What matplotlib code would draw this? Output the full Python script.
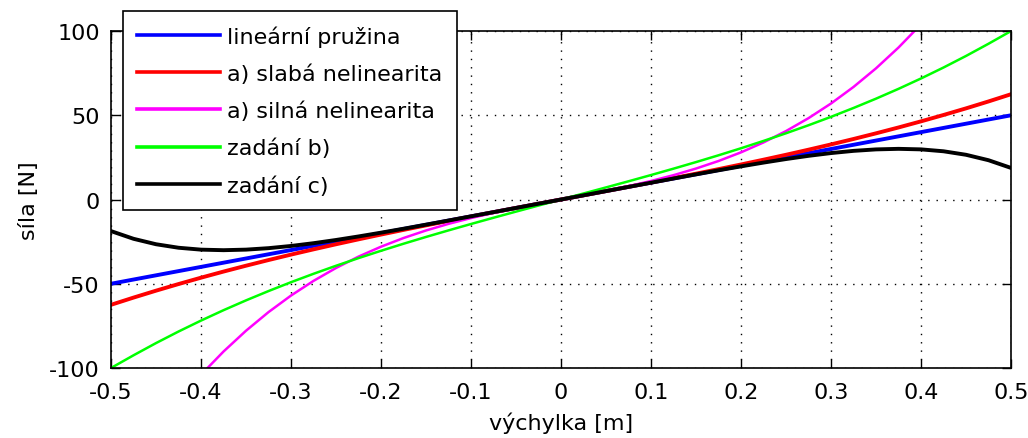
import numpy as np
import matplotlib.pyplot as plt

plt.rcParams['font.family'] = ['DejaVu Sans']
plt.rcParams['axes.unicode_minus'] = False

# values, x step 0.025
x = [-0.5, -0.475, -0.45, -0.425, -0.4, -0.375, -0.35, -0.325, -0.3, -0.275,
     -0.25, -0.225, -0.2, -0.175, -0.15, -0.125, -0.1, -0.075, -0.05, -0.025,
     0.0, 0.025, 0.05, 0.075, 0.1, 0.125, 0.15, 0.175, 0.2, 0.225,
     0.25, 0.275, 0.3, 0.325, 0.35, 0.375, 0.4, 0.425, 0.45, 0.475, 0.5]

linear = [-50, -47.5, -45, -42.5, -40, -37.5, -35, -32.5, -30, -27.5,
          -25, -22.5, -20, -17.5, -15, -12.5, -10, -7.5, -5, -2.5,
          0, 2.5, 5, 7.5, 10, 12.5, 15, 17.5, 20, 22.5,
          25, 27.5, 30, 32.5, 35, 37.5, 40, 42.5, 45, 47.5, 50]

weak = [-62.5, -58.22, -54.11, -50.18, -46.4, -42.77, -39.29, -35.93, -32.7, -29.58,
        -26.56, -23.64, -20.8, -18.04, -15.34, -12.70, -10.1, -7.54, -5.01, -2.50,
        0, 2.50, 5.01, 7.54, 10.1, 12.70, 15.34, 18.04, 20.8, 23.64,
        26.56, 29.58, 32.7, 35.93, 39.29, 42.77, 46.4, 50.18, 54.11, 58.22, 62.5]

x_strong = [-0.4, -0.375, -0.35, -0.325, -0.3, -0.275, -0.25, -0.225, -0.2, -0.175,
            -0.15, -0.125, -0.1, -0.075, -0.05, -0.025, 0.0, 0.025, 0.05, 0.075,
            0.1, 0.125, 0.15, 0.175, 0.2, 0.225, 0.25, 0.275, 0.3, 0.325,
            0.35, 0.375, 0.4]
strong = [-104.0, -90.23, -77.88, -66.83, -57.0, -48.30, -40.63, -33.89, -28.0, -22.86,
          -18.38, -14.45, -11.0, -7.92, -5.13, -2.52, 0, 2.52, 5.13, 7.92,
          11.0, 14.45, 18.38, 22.86, 28.0, 33.89, 40.63, 48.30, 57.0, 66.83,
          77.88, 90.23, 104.0]

zad_b = [-100, -92.47, -85.22, -78.36, -71.86, -65.70, -59.87, -54.34, -49.08, -44.09,
         -39.33, -34.78, -30.43, -26.25, -22.22, -18.32, -14.53, -10.82, -7.18, -3.58,
         0, 3.58, 7.18, 10.82, 14.53, 18.32, 22.22, 26.25, 30.43, 34.78,
         39.33, 44.09, 49.08, 54.34, 59.87, 65.70, 71.86, 78.36, 85.22, 92.47, 100]

zad_c = [-18.75, -23.32, -26.55, -28.63, -29.76, -30.08, -29.75, -28.88, -27.57, -25.93,
         -24.02, -21.92, -19.68, -17.34, -14.92, -12.47, -9.99, -7.50, -5.00, -2.50,
         0, 2.50, 5.00, 7.50, 9.99, 12.47, 14.92, 17.34, 19.68, 21.92,
         24.02, 25.93, 27.57, 28.88, 29.75, 30.08, 29.76, 28.63, 26.55, 23.32, 18.75]

labels = ['lineární pružina', 'a) slabá nelinearita', 'a) silná nelinearita',
          'zadání b)', 'zadání c)']
xticks = [-0.5, -0.4, -0.3, -0.2, -0.1, 0, 0.1, 0.2, 0.3, 0.4, 0.5]
xticklabels = ['-0.5', '-0.4', '-0.3', '-0.2', '-0.1', '0', '0.1', '0.2', '0.3', '0.4', '0.5']
yticks = [-100, -50, 0, 50, 100]
yticklabels = ['-100', '-50', '0', '50', '100']

fig = plt.figure(figsize=(10.28, 4.39), dpi=100)
ax = fig.add_axes([0.108, 0.1595, 0.8755, 0.7675])

ax.plot(x, linear, color='#0000ff', lw=2.8, label=labels[0])
ax.plot(x, weak, color='#ff0000', lw=2.8, label=labels[1])
ax.plot(x_strong, strong, color='#ff00ff', lw=1.8, label=labels[2])
ax.plot(x, zad_b, color='#00ff00', lw=1.8, label=labels[3])
ax.plot(x, zad_c, color='#000000', lw=2.8, label=labels[4])

ax.set_xlim(-0.5, 0.5)
ax.set_ylim(-100, 100)
ax.set_xticks(xticks)
ax.set_xticklabels(xticklabels)
ax.set_yticks(yticks)
ax.set_yticklabels(yticklabels)
ax.grid(True, color='black', linestyle=(0, (1, 5)), linewidth=1.0)
ax.tick_params(direction='in', length=6.5, width=1, top=True, right=True,
               labelsize=16, colors='black')
ax.tick_params(axis='y', pad=8)
ax.tick_params(axis='x', pad=10)
for s in ax.spines.values():
    s.set_linewidth(1.2)

ax.set_xlabel('výchylka [m]', fontsize=16, labelpad=7)
ax.set_ylabel('síla [N]', fontsize=16, labelpad=7)

leg = ax.legend(loc='upper left', bbox_to_anchor=(0.1196, 0.9727),
                bbox_transform=fig.transFigure, fontsize=16, frameon=True,
                fancybox=False, edgecolor='black', framealpha=1,
                handlelength=3.7, handletextpad=0.35, labelspacing=0.75,
                borderpad=0.65, borderaxespad=0)
leg.get_frame().set_linewidth(1.2)
for h in leg.get_lines():
    h.set_linewidth(2.6)

fig.savefig('out.png', dpi=100)
